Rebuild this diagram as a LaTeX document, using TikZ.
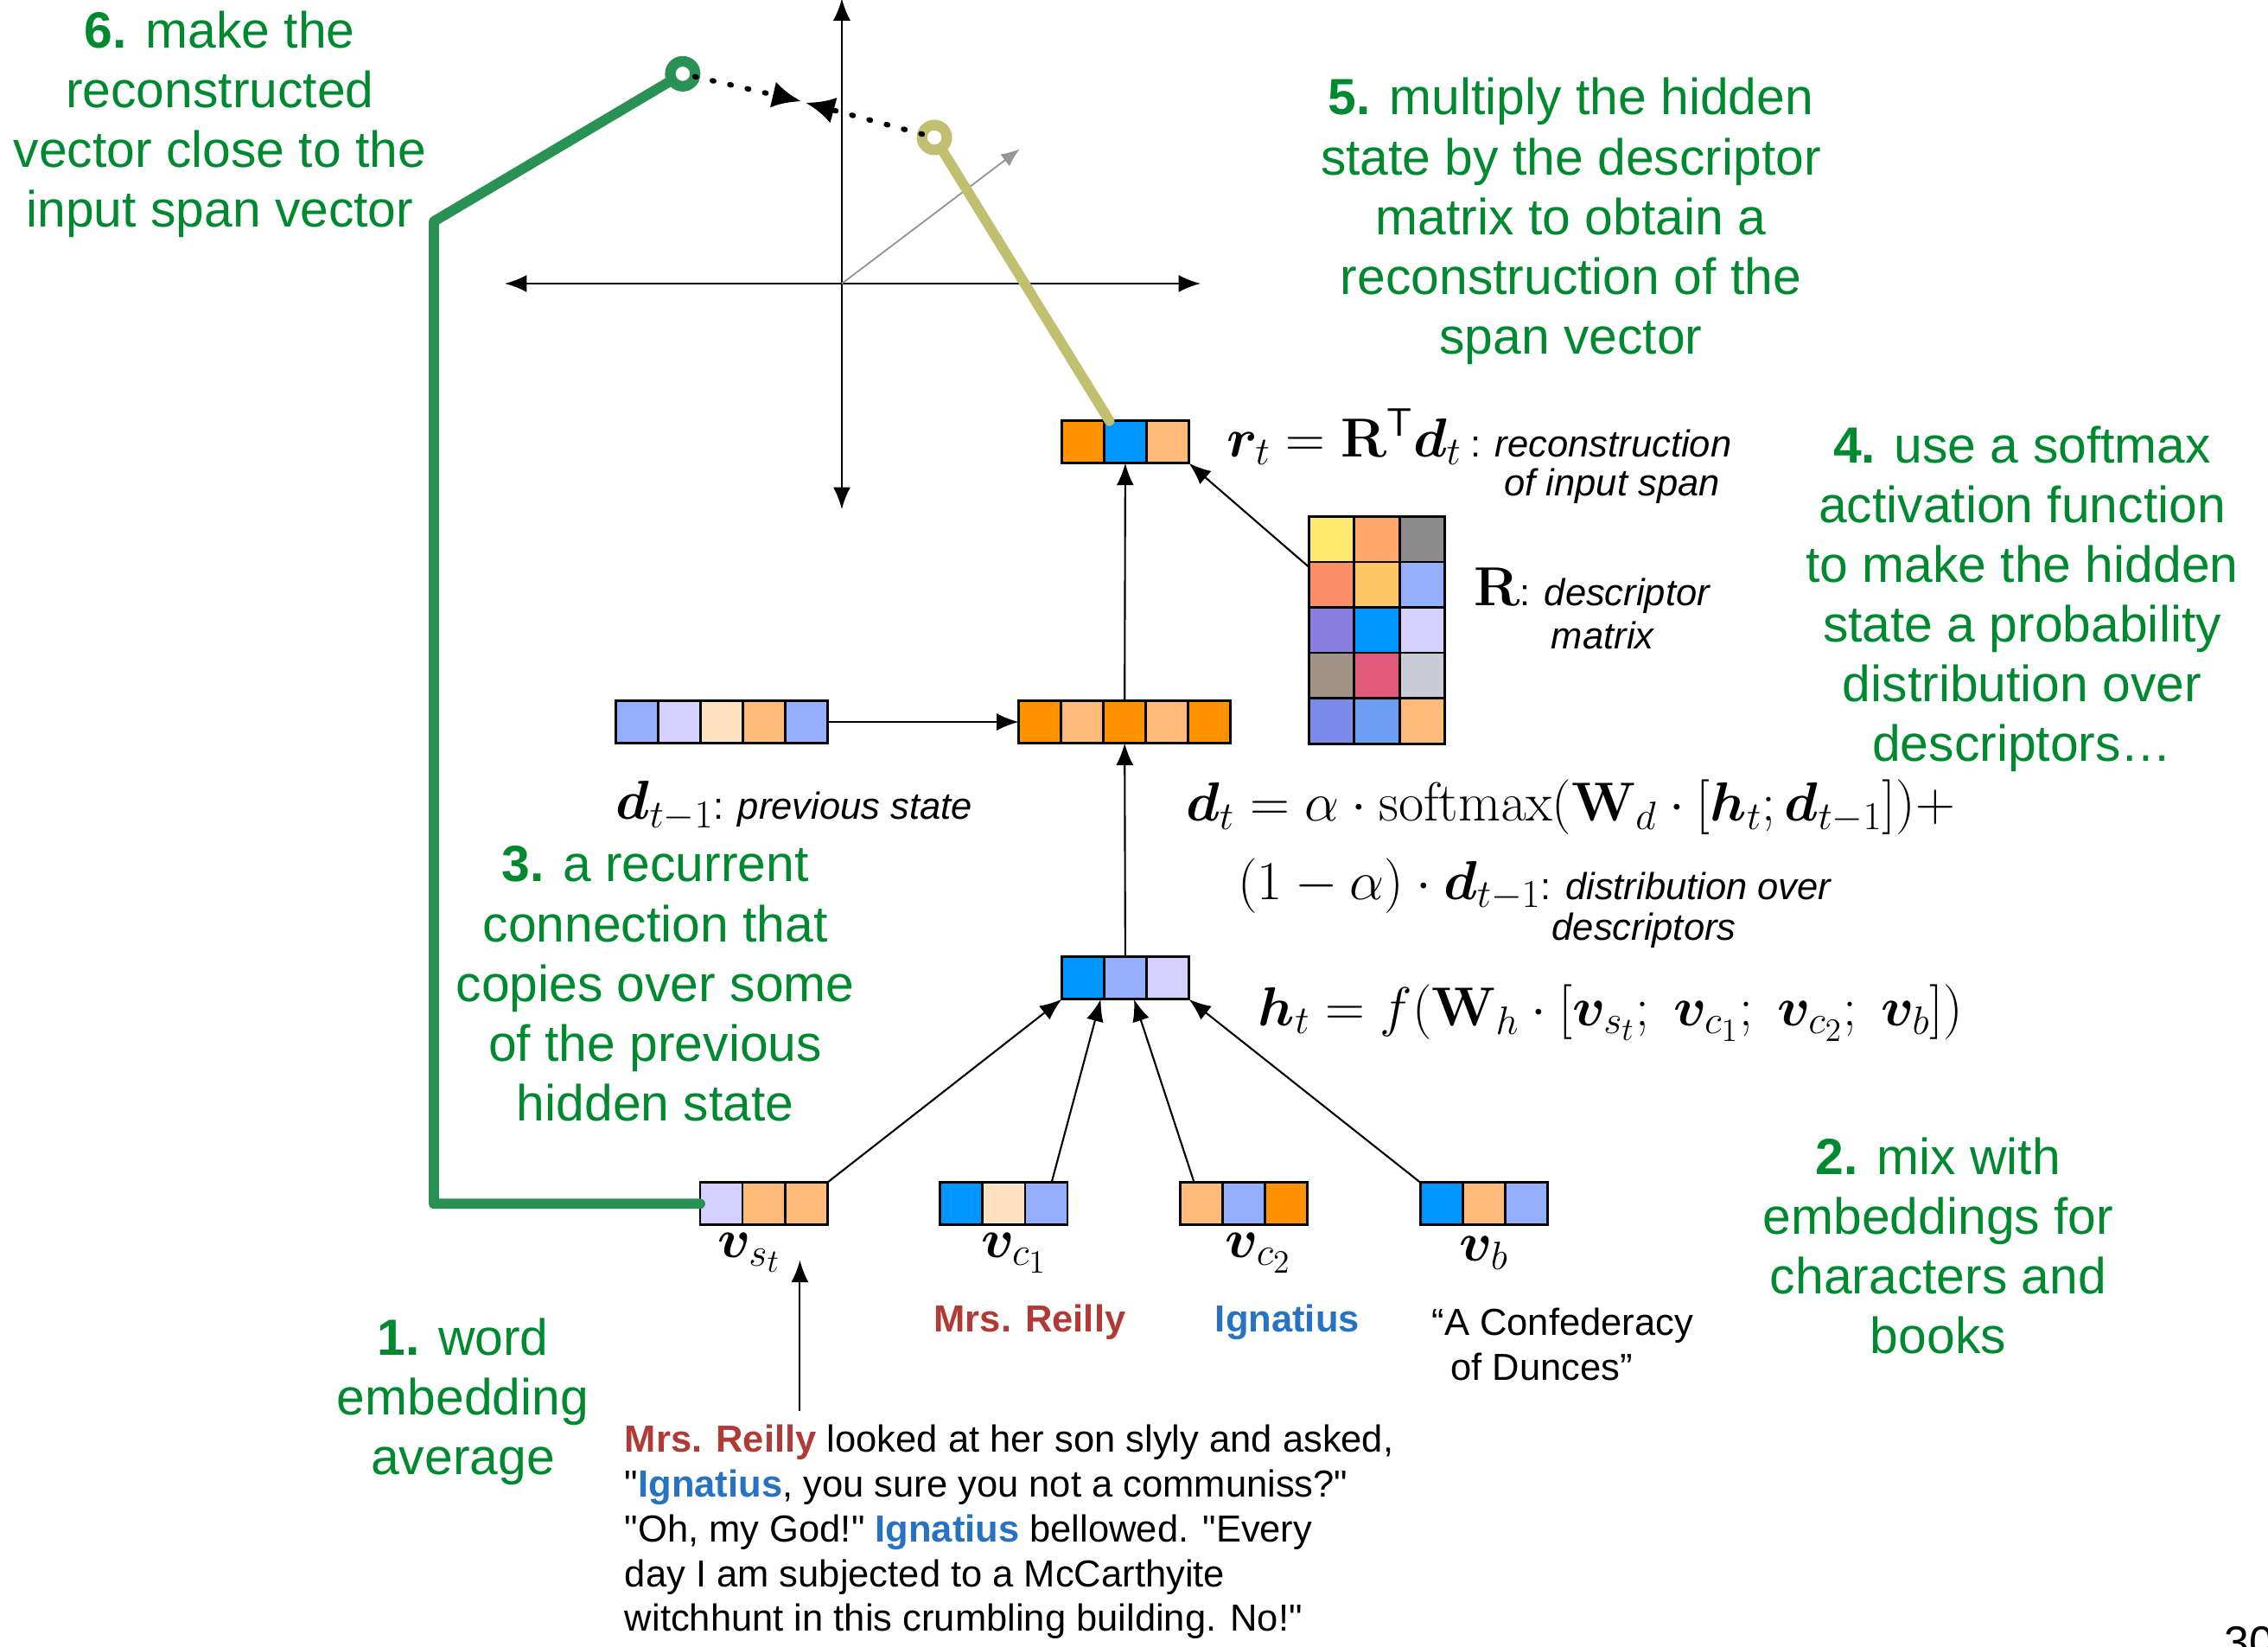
\RequirePackage{fix-cm}
\documentclass[tikz,border=0pt]{standalone}
\usepackage{amsmath}
\usepackage{bm}
\usepackage[no-math]{fontspec}
\setmainfont{Liberation Sans}
\usepackage{xcolor}
\usetikzlibrary{arrows.meta, positioning}

\DeclareMathSizes{27}{27}{19.5}{16}
\newcommand{\notefont}{\fontsize{25}{29.4}\selectfont}
\newcommand{\bodyfont}{\fontsize{18.5}{22}\selectfont}
\newcommand{\eqfont}{\fontsize{27}{32}\selectfont}
\newcommand{\cellw}{29.3}
\newcommand{\qq}{\textquotedbl}

% one embedding vector: name, centre x, centre y, number of cells, colours
\newcommand{\embvec}[5]{%
  \foreach \col [count=\k from 0] in {#5} {
    \filldraw[cell, fill=\col] ({#2-#4*\cellw/2+\k*\cellw},{#3-\cellw/2}) rectangle ++(\cellw,\cellw);
  }
  \node[vecbox, minimum width={#4*\cellw*0.25mm}, minimum height={\cellw*0.25mm}] (#1) at (#2,#3) {};
}

\begin{document}
\begin{tikzpicture}[x=0.25mm, y=-0.25mm,
  every node/.style={inner sep=0pt, outer sep=0pt},
  note/.style={text=notegreen, align=center, font=\notefont},
  body/.style={font=\bodyfont},
  eq/.style={font=\eqfont},
  cell/.style={draw=black, line width=1.2pt},
  vecbox/.style={rectangle},
  conn/.style={-{Latex[length=3.8mm, width=3mm]}, line width=0.9pt},
  axis/.style={{Latex[length=3.8mm, width=3mm]}-{Latex[length=3.8mm, width=3mm]}, line width=0.9pt},
  grayarrow/.style={-{Latex[length=3.2mm, width=2.6mm]}, line width=0.8pt, color=axisgray},
  dotarrow/.style={-{Latex[length=5mm, width=4.6mm]}, line width=2.6pt, line cap=round, dash pattern=on 0.8pt off 8pt},
  recline/.style={line width=5pt, line cap=round, line join=round},
  ringpt/.style={circle, line width=5.2pt, minimum size=4.3mm, fill=white}]
  % Define colors
  \definecolor{notegreen}{RGB}{0,137,47}     % green notes
  \definecolor{recgreen}{RGB}{41,145,84}     % input span path
  \definecolor{recolive}{RGB}{192,192,112}   % reconstruction path
  \definecolor{reillyred}{RGB}{178,58,54}
  \definecolor{ignblue}{RGB}{38,115,193}
  \definecolor{axisgray}{RGB}{150,150,150}
  % cell colours
  \definecolor{cOrange}{RGB}{255,146,0}
  \definecolor{cBlue}{RGB}{0,150,255}
  \definecolor{cPeach}{RGB}{254,186,120}
  \definecolor{cPeri}{RGB}{150,174,254}
  \definecolor{cLav}{RGB}{213,208,255}
  \definecolor{cCream}{RGB}{255,226,193}
  \definecolor{cYellow}{RGB}{255,233,110}
  \definecolor{cApricot}{RGB}{255,167,106}
  \definecolor{cGray}{RGB}{140,140,140}
  \definecolor{cSalmon}{RGB}{251,142,103}
  \definecolor{cGold}{RGB}{255,199,102}
  \definecolor{cPurple}{RGB}{138,126,226}
  \definecolor{cTaupe}{RGB}{160,147,134}
  \definecolor{cPink}{RGB}{224,90,122}
  \definecolor{cSilver}{RGB}{203,204,214}
  \definecolor{cIndigo}{RGB}{123,138,232}
  \definecolor{cSky}{RGB}{107,157,243}

  \useasboundingbox (0,0) rectangle (1568,1138);
  \clip (0,0) rectangle (1568,1138);

  % Axes of the span space
  \coordinate (origin) at (582,196);
  \coordinate (ytop) at (582,-1);
  \coordinate (ybot) at (582,352);
  \coordinate (xleft) at (349,196);
  \coordinate (xright) at (830,196);
  \coordinate (gtip) at (705,103);
  \draw[axis] (ybot) -- (ytop);
  \draw[axis] (xleft) -- (xright);
  \draw[grayarrow] (origin) -- (gtip);

  % Embedding vectors
  \embvec{rt}{778}{305.5}{3}{cOrange,cBlue,cPeach}
  \embvec{dt}{777.5}{499}{5}{cOrange,cPeach,cOrange,cPeach,cOrange}
  \embvec{dprev}{499}{499}{5}{cPeri,cLav,cCream,cPeach,cPeri}
  \embvec{ht}{778}{676}{3}{cBlue,cPeri,cLav}
  \embvec{vst}{528}{832}{3}{cLav,cPeach,cPeach}
  \embvec{vca}{694}{832}{3}{cBlue,cCream,cPeri}
  \embvec{vcb}{860}{832}{3}{cPeach,cPeri,cOrange}
  \embvec{vb}{1026}{832}{3}{cBlue,cPeach,cPeri}

  % Descriptor matrix R
  \foreach \rowcols [count=\rw from 0] in {{cYellow,cApricot,cGray},{cSalmon,cGold,cPeri},{cPurple,cBlue,cLav},{cTaupe,cPink,cSilver},{cIndigo,cSky,cPeach}} {
    \foreach \col [count=\k from 0] in \rowcols {
      \filldraw[cell, fill=\col] ({905+\k*31.3},{357+\rw*31.4}) rectangle ++(31.3,31.4);
    }
  }
  \node[vecbox, minimum width=23.5mm, minimum height=39.25mm] (Rmat) at (952,435.5) {};

  % Connections
  \draw[conn] (dprev) -- (dt);
  \draw[conn] (dt) -- (rt);
  \draw[conn] (ht) -- (dt);
  \draw[conn] ([yshift=-8.75mm]Rmat.north west) -- (rt.south east);
  \draw[conn] (vst.north east) -- (ht.south west);
  \draw[conn] ([xshift=8.25mm]vca.north) -- ([xshift=-4.25mm]ht.south);
  \draw[conn] ([xshift=-8.6mm]vcb.north) -- ([xshift=1.5mm]ht.south);
  \draw[conn] (vb.north west) -- (ht.south east);

  % Span points and the loss between them
  \node[ringpt, draw=recgreen] (recpt) at (472,51) {};
  \node[ringpt, draw=recolive] (olivept) at (646,95) {};
  \coordinate (meetA) at (554,70);
  \coordinate (meetB) at (557,71);
  \draw[dotarrow] (recpt) -- (meetA);
  \draw[dotarrow] (olivept) -- (meetB);
  \draw[recline, recgreen] (vst.west) -| (300,153) -- (recpt);
  \draw[recline, recolive] ([xshift=-2.75mm]rt.north) -- (olivept);

  % Equations and labels
  \node[eq, anchor=west] (rteq) at (848,302) {$\bm{r}_t = \mathbf{R}^{\text{\sffamily T}}\bm{d}_t$\,{\bodyfont: \itshape reconstruction}};
  \node[body, anchor=west] (rtdesc) at (1040,336) {\itshape of input span};
  \node[eq, anchor=west] (Rlab) at (1019,408) {$\mathbf{R}${\bodyfont: \itshape descriptor}};
  \node[body] (Rdesc) at (1108,439) {\itshape matrix};
  \node[eq, anchor=west] (dprevlab) at (426,557) {$\bm{d}_{t-1}${\bodyfont: \itshape previous state}};
  \node[eq, anchor=west] (dteq) at (820,558) {$\bm{d}_t = \alpha \cdot \mathrm{softmax}(\mathbf{W}_d \cdot [\bm{h}_t; \bm{d}_{t-1}])+$};
  \node[eq, anchor=west] (dteqb) at (856,612) {$(1-\alpha)\cdot\bm{d}_{t-1}${\bodyfont: \itshape distribution over}};
  \node[body, anchor=west] (dtdesc) at (1073,643) {\itshape descriptors};
  \node[eq, anchor=west] (hteq) at (870,700) {$\bm{h}_t = f(\mathbf{W}_h \cdot [\bm{v}_{s_t};\; \bm{v}_{c_1};\; \bm{v}_{c_2};\; \bm{v}_b])$};

  % Input labels
  \node[eq] (vstlab) at (518,866) {$\bm{v}_{s_t}$};
  \node[eq] (vcalab) at (701,866) {$\bm{v}_{c_1}$};
  \node[eq] (vcblab) at (870,866) {$\bm{v}_{c_2}$};
  \node[eq] (vblab) at (1026,866) {$\bm{v}_b$};
  \node[body, text=reillyred, font=\bodyfont\bfseries] (nameca) at (712,914) {Mrs. Reilly};
  \node[body, text=ignblue, font=\bodyfont\bfseries] (namecb) at (890,914) {Ignatius};
  \node[body, align=left, anchor=west] (nameb) at (990,929) {“A Confederacy\\\hspace*{3.25mm}of Dunces”};

  % Input text
  \node[body, align=left, anchor=west] (quote) at (432,1059) {{\color{reillyred}\textbf{Mrs. Reilly}} looked at her son slyly and asked,\\
    \qq{\color{ignblue}\textbf{Ignatius}}, you sure you not a communiss?\qq\\
    \qq Oh, my God!\qq\ {\color{ignblue}\textbf{Ignatius}} bellowed. \qq Every\\
    day I am subjected to a McCarthyite\\
    witchhunt in this crumbling building. No!\qq};
  \coordinate (qtop) at (553,975);
  \coordinate (qtip) at (553,871);
  \draw[conn] (qtop) -- (qtip);

  % Green notes
  \node[note] (note6) at (152,86) {\textbf{6.} make the\\reconstructed\\vector close to the\\input span vector};
  \node[note] (note5) at (1086,153) {\textbf{5.} multiply the hidden\\state by the descriptor\\matrix to obtain a\\reconstruction of the\\span vector};
  \node[note] (note4) at (1398,414) {\textbf{4.} use a softmax\\activation function\\to make the hidden\\state a probability\\distribution over\\descriptors…};
  \node[note] (note3) at (453,680) {\textbf{3.} a recurrent\\connection that\\copies over some\\of the previous\\hidden state};
  \node[note] (note2) at (1340,861) {\textbf{2.} mix with\\embeddings for\\characters and\\books};
  \node[note] (note1) at (320,969) {\textbf{1.} word\\embedding\\average};

  % Page number
  \node[font=\fontsize{22}{26}\selectfont, anchor=north west] (pagenum) at (1538,1124) {30};
\end{tikzpicture}
\end{document}
